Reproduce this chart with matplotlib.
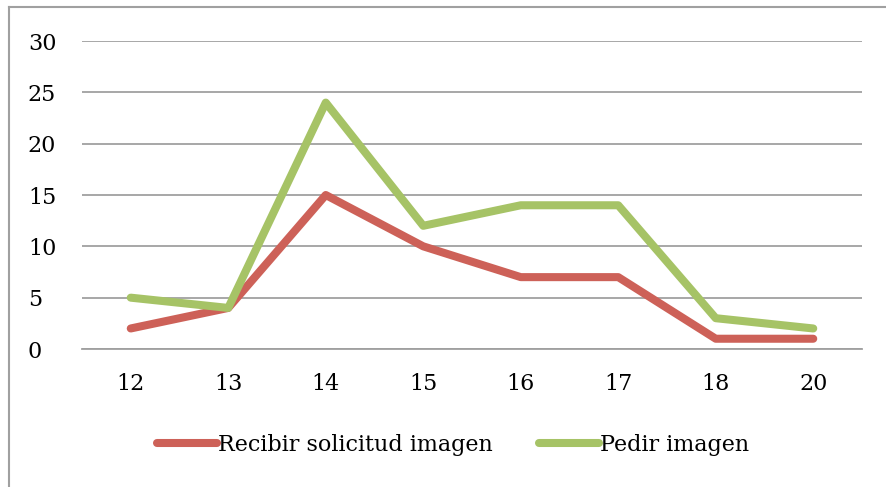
import matplotlib.pyplot as plt
from matplotlib.lines import Line2D

horas = ['12', '13', '14', '15', '16', '17', '18', '20']
recibir = [2, 4, 15, 10, 7, 7, 1, 1]
pedir = [5, 4, 24, 12, 14, 14, 3, 2]

plt.rcParams['font.family'] = ['DejaVu Serif']

fig = plt.figure(figsize=(8.86, 4.87), dpi=100)
W, H = 886, 487
# área de trazado en píxeles: x 82..862, y 41..349
ax = fig.add_axes([82 / W, 1 - 349 / H, 780 / W, 308 / H])

x = list(range(len(horas)))
kw = dict(linewidth=5.8, solid_capstyle='round', solid_joinstyle='round')
ax.plot(x, recibir, color='#CD6158', label='Recibir solicitud imagen', **kw)
ax.plot(x, pedir, color='#A6C366', label='Pedir imagen', **kw)

ax.set_xlim(-0.5, len(horas) - 0.5)
ax.set_ylim(0, 30)
ax.set_yticks(range(0, 31, 5))
ax.set_xticks(x)
ax.set_xticklabels(horas)
ax.grid(axis='y', color='#A0A0A0', linewidth=1.3)
ax.set_axisbelow(True)
ax.tick_params(length=0, labelsize=16)
ax.tick_params(axis='x', pad=17)
for s in ['top', 'right', 'left']:
    ax.spines[s].set_visible(False)
ax.spines['bottom'].set_color('#A0A0A0')
ax.spines['bottom'].set_linewidth(1.3)

for lab in ax.get_yticklabels():
    lab.set_horizontalalignment('left')
ax.tick_params(axis='y', pad=39)

fs = 16
leg = fig.legend(loc='center', bbox_to_anchor=(453 / W, 1 - 445 / H), ncol=2,
                 frameon=False, fontsize=fs, handlelength=2.7, handletextpad=0.05,
                 columnspacing=2.1)

# marco del gráfico (solo superior e izquierdo visibles)
fig.add_artist(Line2D([9 / W, 9 / W], [0, 1 - 6.5 / H], transform=fig.transFigure,
                      color='#A0A0A0', linewidth=1.5))
fig.add_artist(Line2D([9 / W, 1], [1 - 6.5 / H, 1 - 6.5 / H], transform=fig.transFigure,
                      color='#A0A0A0', linewidth=1.5))

fig.savefig('out.png', dpi=100)
